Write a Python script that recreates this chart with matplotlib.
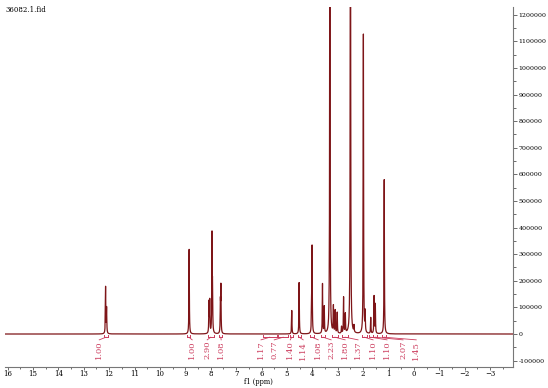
import numpy as np
import matplotlib
matplotlib.use("Agg")
import matplotlib.pyplot as plt
from matplotlib.ticker import MultipleLocator, FuncFormatter

# ---- data ----
peak_ppm = [12.14, 12.10, 8.85, 8.07, 8.04, 7.95, 7.93, 7.62, 7.60,
            4.81, 4.52, 4.03, 4.01, 3.60, 3.53, 3.31, 3.17, 3.10, 3.02,
            2.85, 2.77, 2.70, 2.50, 2.36, 1.99, 1.92, 1.70, 1.57, 1.52, 1.17]
peak_height = [175000, 95000, 318000, 115000, 120000, 360000, 150000, 110000, 172000,
               88000, 193000, 95000, 318000, 186000, 100000, 2000000, 100000, 85000, 78000,
               25000, 135000, 72000, 2500000, 25000, 1125000, 75000, 60000, 140000, 110000, 580000]

int_labels = ["1.00", "1.00", "2.90", "1.08", "1.17", "0.77", "1.40", "1.14",
              "1.08", "2.23", "1.80", "1.37", "1.10", "1.10", "2.07", "1.45"]
int_label_ppm = [12.39, 8.73, 8.14, 7.59, 6.02, 5.50, 4.87, 4.36,
                 3.77, 3.26, 2.71, 2.20, 1.61, 1.06, 0.43, -0.09]
int_lo = [12.05, 8.80, 7.88, 7.55, 5.40, 4.95, 4.75, 4.45,
          3.95, 3.50, 3.00, 2.60, 1.85, 1.62, 1.45, 1.10]
int_hi = [12.20, 8.92, 8.12, 7.66, 5.95, 5.35, 4.88, 4.58,
          4.08, 3.65, 3.22, 2.82, 2.05, 1.78, 1.60, 1.24]

title = "36082.1.fid"
xlabel = "f1 (ppm)"

# ---- figure ----
fig = plt.figure(figsize=(5.48, 3.88), dpi=100)
ax = fig.add_axes([5/548, 21/388, 508/548, 360/388])

ppm = np.linspace(-4, 16.2, 40000)
w = 0.009
spec = np.zeros_like(ppm)
for p, h in zip(peak_ppm, peak_height):
    spec += h * w**2 / ((ppm - p)**2 + w**2)

line_col = "#7E1518"
int_col = "#CC3D5E"
ax.plot(ppm, spec, color=line_col, lw=0.9, clip_on=True)

ax.set_xlim(16.1, -3.9)
ax.set_ylim(-124000, 1229000)

# integrals
for lab, lp, lo, hi in zip(int_labels, int_label_ppm, int_lo, int_hi):
    mid = (lo + hi) / 2
    ax.plot([hi, lo], [-12000, -12000], color=int_col, lw=0.7)
    ax.plot([hi, hi], [-12000, -4000], color=int_col, lw=0.7)
    ax.plot([lo, lo], [-12000, -4000], color=int_col, lw=0.7)
    ax.plot([mid, lp], [-12000, -22000], color=int_col, lw=0.6)
    ax.text(lp, -25000, lab, rotation=90, ha="center", va="top",
            color=int_col, fontsize=6, family="DejaVu Serif")

# axes styling
for s in ["left", "top"]:
    ax.spines[s].set_visible(False)
ax.spines["right"].set_color("#777777")
ax.spines["bottom"].set_color("#777777")
ax.yaxis.tick_right()
ax.yaxis.set_major_locator(MultipleLocator(100000))
ax.yaxis.set_minor_locator(MultipleLocator(50000))
ax.yaxis.set_major_formatter(FuncFormatter(lambda v, _: f"{int(round(v))}"))
ax.xaxis.set_major_locator(MultipleLocator(1))
ax.xaxis.set_minor_locator(MultipleLocator(0.5))
ax.xaxis.set_major_formatter(FuncFormatter(lambda v, _: f"{int(round(v))}".replace("-", "\u2212")))
ax.tick_params(axis="y", which="major", length=3, width=0.6, color="#555555",
               labelsize=4.5, pad=1)
ax.tick_params(axis="y", which="minor", length=2, width=0.6, color="#555555")
ax.tick_params(axis="x", which="major", length=2, width=0.6, color="#555555",
               labelsize=5, pad=0.5)
ax.tick_params(axis="x", which="minor", length=1.2, width=0.6, color="#555555")
for t in ax.get_xticklabels() + ax.get_yticklabels():
    t.set_family("DejaVu Serif")

fig.text(5/548, 1 - 10/388, title, fontsize=5, family="DejaVu Serif", va="center")
fig.text(258/548, 1 - 382.5/388, xlabel, fontsize=4.8, family="DejaVu Serif",
         ha="center", va="center")

fig.savefig("out.png", dpi=100)
